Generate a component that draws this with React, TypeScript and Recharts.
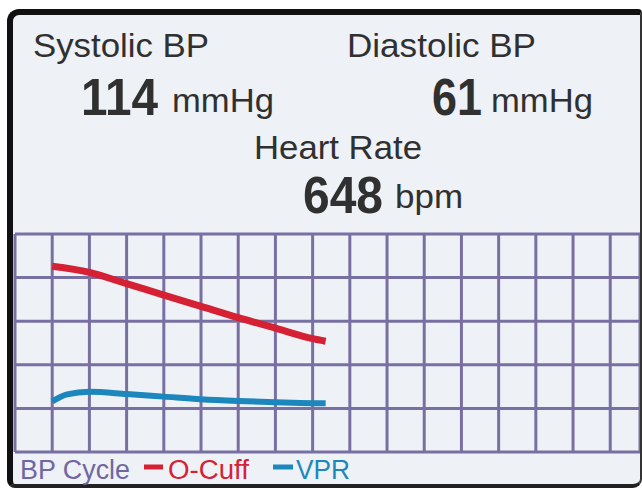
import { LineChart, Line, XAxis, YAxis, CartesianGrid } from 'recharts';

// BP cycle samples
const cycleTime = [1, 1.4, 2, 3, 4, 5, 6, 7, 8, 8.35];
const oCuff = [213, null, 206, 193, 180, 167, 154, 142, 130, 127];
const vpr = [58, 66, 69, 66.5, 63.5, 60.5, 58.5, 57, 56, 56];

const xTicks = [0, 1, 2, 3, 4, 5, 6, 7, 8, 9, 10, 11, 12, 13, 14, 15, 16];
const yTicks = [0, 50, 100, 150, 200, 250];

const readings = {
  systolic: '114',
  diastolic: '61',
  heartRate: '648',
};

const data = cycleTime.map((t, i) => ({ t, oCuff: oCuff[i], vpr: vpr[i] }));

const FONT = '"Liberation Sans", Arial, Helvetica, sans-serif';
const INK = '#303030';
const GRID = '#7870a2';
const RED = '#d52133';
const BLUE = '#1b87bc';

export default function App() {
  return (
    <div
      style={{
        position: 'absolute',
        left: 0,
        top: 0,
        width: 642,
        height: 488,
        background: '#ffffff',
        overflow: 'hidden',
      }}
    >
      {/* monitor frame */}
      <div
        style={{
          position: 'absolute',
          left: 7,
          top: 9,
          width: 635,
          height: 479,
          boxSizing: 'border-box',
          background: '#eef1f6',
          borderTop: '6px solid #111',
          borderLeft: '6px solid #111',
          borderRight: '2px solid #333',
          borderBottom: '4px solid #222',
          borderRadius: '12px 4px 9px 8px',
        }}
      />
      <div style={{ position: 'absolute', left: 0, top: 0 }}>
        <LineChart
          width={640}
          height={488}
          data={data}
          margin={{ top: 234, right: 0, bottom: 36, left: 15 }}
        >
          <CartesianGrid stroke={GRID} strokeWidth={3} />
          <XAxis
            dataKey="t"
            type="number"
            domain={[0, 16.8]}
            ticks={xTicks}
            hide
          />
          <YAxis type="number" domain={[0, 250]} ticks={yTicks} hide />
          <Line
            dataKey="oCuff"
            type="monotone"
            stroke={RED}
            strokeWidth={7}
            dot={false}
            connectNulls
            isAnimationActive={false}
          />
          <Line
            dataKey="vpr"
            type="monotone"
            stroke={BLUE}
            strokeWidth={6}
            dot={false}
            isAnimationActive={false}
          />
        </LineChart>
      </div>
      <svg
        width={642}
        height={488}
        style={{ position: 'absolute', left: 0, top: 0 }}
        fontFamily={FONT}
      >
        <g fill={INK}>
          <text x={33} y={57} fontSize={34} textLength={176} lengthAdjust="spacingAndGlyphs">
            Systolic BP
          </text>
          <text x={81} y={115} fontSize={51} fontWeight="bold" textLength={77} lengthAdjust="spacingAndGlyphs">
            {readings.systolic}
          </text>
          <text x={172} y={112} fontSize={34} textLength={102} lengthAdjust="spacingAndGlyphs">
            mmHg
          </text>
          <text x={347} y={57} fontSize={34} textLength={189} lengthAdjust="spacingAndGlyphs">
            Diastolic BP
          </text>
          <text x={432} y={115} fontSize={51} fontWeight="bold" textLength={50} lengthAdjust="spacingAndGlyphs">
            {readings.diastolic}
          </text>
          <text x={491} y={112} fontSize={34} textLength={102} lengthAdjust="spacingAndGlyphs">
            mmHg
          </text>
          <text x={254} y={159} fontSize={34} textLength={168} lengthAdjust="spacingAndGlyphs">
            Heart Rate
          </text>
          <text x={303} y={213} fontSize={51} fontWeight="bold" textLength={80} lengthAdjust="spacingAndGlyphs">
            {readings.heartRate}
          </text>
          <text x={395} y={208} fontSize={34} textLength={68} lengthAdjust="spacingAndGlyphs">
            bpm
          </text>
        </g>
        {/* legend */}
        <text x={20} y={479} fontSize={27} fill="#6e67a2" textLength={110} lengthAdjust="spacingAndGlyphs">
          BP Cycle
        </text>
        <line x1={144} y1={467} x2={163} y2={467} stroke={RED} strokeWidth={5} />
        <text x={168} y={479} fontSize={27} fill={RED} textLength={81} lengthAdjust="spacingAndGlyphs">
          O-Cuff
        </text>
        <line x1={273} y1={467} x2={293} y2={467} stroke={BLUE} strokeWidth={5} />
        <text x={296} y={479} fontSize={27} fill={BLUE} textLength={54} lengthAdjust="spacingAndGlyphs">
          VPR
        </text>
      </svg>
    </div>
  );
}
